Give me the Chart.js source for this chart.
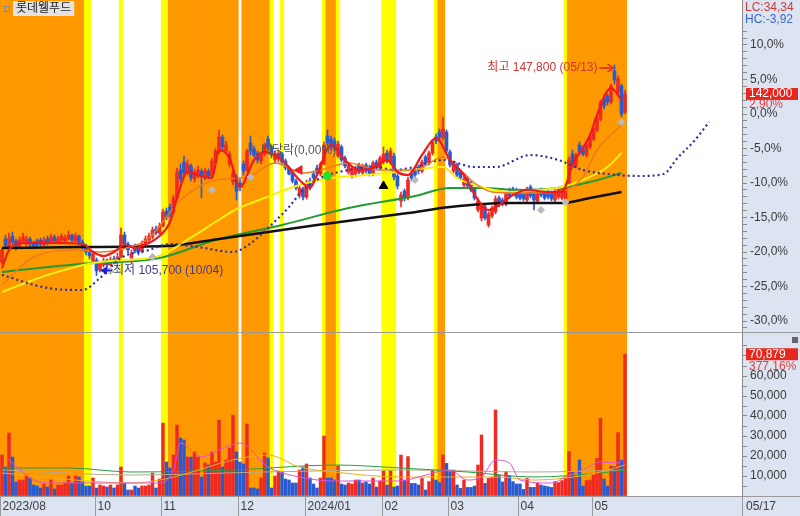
<!DOCTYPE html>
<html>
<head>
<meta charset="utf-8">
<title>롯데웰푸드</title>
<script src="https://cdn.jsdelivr.net/npm/chart.js@4.4.1/dist/chart.umd.min.js"></script>
<style>
  html, body { margin: 0; padding: 0; background: #fff; }
  #wrap { position: relative; width: 800px; height: 516px; overflow: hidden; }
  canvas { position: absolute; left: 0; }
  #priceChart { top: 0; }
  #volChart { top: 333px; }
</style>
</head>
<body>
<div id="wrap">
  <canvas id="priceChart" width="800" height="333"></canvas>
  <canvas id="volChart" width="800" height="183"></canvas>
</div>
<script>
// 롯데웰푸드 일봉 + 거래량 (2023/08/22 ~ 2024/05/17), 가격 단위: 천원

const STOCK_NAME = "롯데웰푸드";
const PREV_CLOSE = 138.0; // 0,0% 기준가
const SLOTS = 212; // 봉 179개 + 오른쪽 빈 공간

const monthStarts = [0, 27, 46, 68, 87, 109, 128, 148, 169];
const monthLabels = ["2023/08", "10", "11", "12", "2024/01", "02", "03", "04", "05"];
const lastDate = "05/17";
const lowDate = "10/04";
const highDate = "05/13";

const opens = [
  108.4, 113.0, 111.4, 113.6, 112.6, 111.6, 112.6, 112.0, 113.0, 112.2,
  112.6, 112.8, 111.8, 113.0, 112.2, 113.4, 112.4, 112.8, 112.6, 113.0,
  113.8, 112.6, 113.6, 112.4, 111.6, 110.4, 108.6, 108.8, 106.8, 107.8,
  108.8, 107.8, 109.0, 108.4, 109.4, 113.8, 112.0, 109.2, 111.6, 111.2,
  110.6, 112.0, 112.8, 113.4, 115.0, 114.2, 115.6, 118.6, 119.4, 118.4,
  121.2, 126.8, 128.4, 126.2, 127.6, 125.0, 125.6, 126.6, 125.2, 126.6,
  125.6, 128.4, 130.4, 133.4, 130.6, 128.0, 124.4, 125.4, 124.2, 128.0,
  126.8, 132.2, 131.0, 130.2, 128.6, 130.0, 133.0, 131.4, 128.8, 129.0,
  130.0, 128.6, 127.2, 126.2, 124.6, 121.8, 123.0, 121.4, 124.6, 126.0,
  127.2, 126.0, 128.0, 133.6, 133.0, 132.6, 129.6, 131.4, 129.2, 126.4,
  125.6, 126.0, 127.8, 126.2, 127.8, 127.4, 126.0, 128.4, 127.2, 128.4,
  130.2, 128.4, 129.6, 125.6, 120.6, 122.6, 121.2, 126.0, 126.6, 127.4,
  126.6, 129.4, 128.2, 130.2, 133.4, 134.4, 133.2, 134.4, 130.4, 126.6,
  127.8, 126.4, 123.8, 125.0, 124.2, 123.0, 118.8, 117.2, 119.4, 115.8,
  117.6, 118.4, 121.2, 120.8, 120.0, 122.6, 123.0, 122.8, 122.6, 122.0,
  120.8, 123.4, 122.2, 120.6, 122.8, 122.2, 122.6, 122.2, 120.8, 121.4,
  121.2, 121.0, 123.8, 130.0, 127.6, 131.8, 131.2, 129.8, 131.4, 133.0,
  134.8, 137.0, 141.2, 141.6, 140.4, 146.6, 142.4, 143.6, 138.4,
];
const highs = [
  111.2, 113.8, 114.2, 114.4, 113.0, 113.4, 114.2, 113.6, 113.4, 112.6,
  113.0, 113.2, 113.4, 113.6, 114.0, 113.8, 113.6, 114.0, 113.8, 114.6,
  114.0, 114.2, 113.8, 112.8, 112.0, 110.8, 110.6, 109.2, 108.6, 109.2,
  109.0, 109.4, 109.6, 110.2, 115.2, 114.4, 112.4, 110.8, 112.0, 111.6,
  112.6, 113.6, 114.2, 115.4, 115.6, 116.2, 119.0, 119.2, 120.0, 121.8,
  127.2, 128.0, 129.6, 128.8, 128.0, 127.0, 127.6, 127.0, 127.2, 127.0,
  129.2, 131.2, 134.8, 133.8, 132.6, 130.6, 127.0, 125.8, 125.0, 128.6,
  131.0, 133.6, 131.6, 130.6, 130.4, 132.2, 133.6, 131.8, 130.6, 130.8,
  130.4, 129.0, 127.6, 126.6, 125.0, 123.8, 123.4, 124.8, 125.2, 126.6,
  127.8, 128.4, 132.4, 134.8, 133.6, 133.2, 132.6, 131.8, 129.6, 128.2,
  127.4, 127.6, 128.2, 128.0, 128.2, 127.8, 128.6, 128.8, 129.6, 131.4,
  130.8, 131.2, 130.2, 126.0, 122.4, 123.0, 125.4, 126.4, 127.0, 127.8,
  128.8, 129.8, 130.6, 132.8, 134.0, 135.0, 137.4, 134.8, 130.8, 128.6,
  128.2, 126.8, 125.6, 125.4, 124.6, 123.4, 121.2, 120.2, 119.8, 118.4,
  119.6, 121.6, 121.6, 121.2, 122.4, 123.2, 123.4, 123.2, 123.0, 122.4,
  123.4, 123.8, 122.6, 122.8, 123.2, 122.6, 123.0, 122.6, 123.0, 123.4,
  123.6, 124.0, 129.4, 130.8, 130.2, 132.4, 131.6, 132.2, 133.8, 135.6,
  137.6, 140.8, 141.8, 142.0, 144.0, 147.8, 145.6, 144.0, 142.8,
];
const lows = [
  108.0, 111.2, 111.0, 112.0, 110.8, 111.2, 112.2, 111.6, 111.4, 111.0,
  111.4, 111.6, 111.6, 111.8, 112.0, 112.2, 112.0, 112.4, 112.2, 112.8,
  112.4, 112.4, 111.8, 110.8, 109.8, 109.0, 108.2, 105.7, 106.4, 107.4,
  107.2, 107.6, 108.0, 108.2, 109.2, 111.6, 110.2, 108.0, 110.2, 109.8,
  110.2, 111.6, 112.4, 113.0, 113.8, 114.0, 115.4, 116.8, 117.4, 118.0,
  120.8, 124.4, 125.6, 125.8, 124.6, 124.4, 125.2, 121.2, 124.8, 125.0,
  125.4, 128.0, 130.0, 130.8, 130.0, 127.4, 123.8, 120.8, 122.6, 125.8,
  126.4, 129.8, 129.4, 128.2, 128.0, 129.6, 130.8, 129.2, 128.2, 128.4,
  128.0, 126.8, 125.8, 124.2, 122.8, 121.2, 120.8, 121.0, 122.8, 124.6,
  125.6, 125.6, 127.8, 131.6, 130.8, 130.6, 129.2, 128.4, 127.2, 126.0,
  125.2, 125.4, 126.0, 125.8, 126.2, 125.6, 125.6, 126.8, 126.8, 128.0,
  128.2, 128.0, 124.8, 123.0, 119.4, 120.6, 120.8, 124.6, 125.4, 126.0,
  126.2, 127.8, 127.8, 129.8, 132.0, 132.8, 132.8, 130.0, 127.4, 126.2,
  125.4, 124.8, 123.4, 123.2, 122.4, 120.8, 118.4, 116.6, 116.8, 115.4,
  117.2, 118.0, 119.4, 119.6, 119.6, 121.2, 121.8, 121.0, 120.8, 120.6,
  120.4, 121.2, 118.8, 120.2, 121.4, 120.8, 121.0, 120.6, 120.4, 121.0,
  120.8, 120.6, 123.4, 127.4, 127.2, 129.8, 129.6, 129.4, 131.0, 132.6,
  134.4, 136.6, 139.0, 139.8, 140.0, 144.0, 141.8, 137.4, 138.0,
];
const closes = [
  110.8, 111.6, 113.2, 112.4, 111.6, 112.8, 113.4, 113.0, 112.0, 111.6,
  111.8, 112.0, 112.8, 112.2, 113.4, 112.6, 113.0, 113.6, 113.2, 113.8,
  112.8, 113.6, 112.4, 111.4, 110.4, 109.6, 110.0, 106.6, 108.0, 108.6,
  107.8, 108.8, 108.4, 109.4, 113.8, 112.0, 110.8, 110.2, 110.6, 110.4,
  112.0, 113.0, 113.6, 114.8, 114.2, 115.6, 118.4, 117.4, 118.2, 121.2,
  126.4, 125.0, 126.2, 128.0, 125.2, 126.4, 126.8, 125.4, 126.6, 125.6,
  128.6, 130.6, 133.4, 131.4, 131.8, 130.0, 126.2, 122.6, 123.4, 126.6,
  130.6, 130.6, 129.8, 128.8, 130.0, 131.8, 131.4, 129.8, 130.0, 130.2,
  128.4, 127.2, 126.0, 124.6, 123.2, 123.2, 121.4, 124.2, 123.4, 125.2,
  126.2, 128.0, 131.8, 132.2, 131.4, 131.0, 132.0, 128.8, 127.6, 127.8,
  127.0, 127.2, 126.4, 127.6, 126.6, 126.0, 128.2, 127.2, 129.2, 130.0,
  128.6, 130.6, 125.4, 123.6, 121.8, 121.2, 124.8, 125.2, 125.8, 126.6,
  128.4, 128.2, 130.2, 132.4, 132.6, 133.4, 135.0, 130.6, 127.8, 128.2,
  125.8, 125.2, 125.0, 123.6, 122.8, 121.2, 120.6, 119.6, 117.2, 118.0,
  119.2, 121.0, 119.8, 120.0, 122.0, 121.6, 122.2, 121.4, 121.2, 121.0,
  123.0, 121.6, 120.8, 122.4, 121.8, 121.2, 121.4, 121.0, 122.6, 123.0,
  123.2, 123.6, 128.8, 128.0, 129.8, 130.4, 130.0, 131.8, 133.4, 135.2,
  137.2, 140.4, 139.6, 140.4, 143.6, 144.8, 145.0, 138.0, 142.0,
];
const volumes = [
  20500, 14500, 31500, 19500, 7000, 8000, 8000, 10500, 9000, 5500,
  5000, 4000, 6000, 4500, 8000, 3500, 5500, 5500, 6500, 10000,
  6500, 10000, 9500, 7000, 5000, 5000, 9000, 4000, 5500, 5000,
  4500, 5500, 4000, 5500, 14500, 6500, 3000, 3000, 5000, 4000,
  5000, 5000, 5500, 11500, 4000, 8500, 36500, 17000, 14000, 20500,
  35500, 29000, 28000, 19500, 19500, 22000, 19500, 9500, 16500, 15500,
  22000, 17000, 38000, 14500, 18000, 24000, 40500, 22000, 17000, 16000,
  36000, 4000, 4000, 3500, 9000, 21500, 19000, 4000, 10000, 12500,
  12000, 8500, 8000, 6500, 6500, 13000, 14500, 16000, 9000, 6000,
  4000, 9000, 30000, 9000, 9000, 8000, 15000, 6000, 5500, 6500,
  6000, 8000, 8000, 6500, 7000, 6000, 9000, 4500, 7500, 12500,
  5500, 12500, 4500, 5000, 20500, 8000, 19700, 6300, 6300, 5500,
  8800, 3000, 7200, 13000, 8000, 6700, 20500, 16300, 12200, 13000,
  5500, 3800, 8000, 4300, 4300, 5000, 15500, 30500, 6300, 8800,
  9300, 43000, 10500, 7000, 12200, 10000, 7200, 6000, 6000, 3300,
  8800, 4300, 4300, 6300, 5500, 5000, 4700, 4300, 7200, 6700,
  7700, 8800, 22200, 12200, 9700, 18000, 5000, 7700, 8000, 10500,
  18800, 38800, 8500, 5000, 15000, 14700, 31700, 18000, 70879,
];

// 신호 구간: O 주황, Y 노랑 (봉 번호 시작~끝)
const signalRanges = [
  [0, 23, "O"], [24, 25, "Y"], [34, 34, "Y"], [46, 47, "Y"], [48, 67, "O"],
  [69, 76, "O"], [77, 77, "Y"], [80, 80, "Y"], [92, 92, "Y"], [93, 95, "O"],
  [96, 96, "Y"], [109, 112, "Y"], [124, 124, "Y"], [125, 126, "O"],
  [161, 161, "Y"], [162, 178, "O"],
];

// 이동평균선 (봉 번호, 천원)
const ma5 = [[0,107.2],[2,110.8],[5,112.2],[10,112.2],[16,112.2],[23,112.0],[26,110.4],[29,109.6],[32,110.4],[35,111.8],[38,111.2],[40,111.6],[45,113.6],[48,116.4],[50,121.2],[53,126.4],[56,125.8],[60,125.2],[62,130.8],[65,129.2],[68,123.4],[72,128.8],[75,130.4],[80,128.8],[85,124.8],[88,123.2],[90,125.8],[94,131.8],[98,128.8],[102,126.8],[106,127.2],[110,128.8],[113,126.4],[116,125.8],[120,129.8],[124,133.2],[128,128.8],[132,125.8],[136,120.8],[139,118.8],[142,119.8],[146,121.8],[150,122.8],[156,122.4],[160,122.4],[163,127.8],[168,133.8],[170,137.8],[174,143.2],[177,140.8]];
const ma20 = [[0,103.8],[9,109.4],[22,110.8],[28,110.4],[33,110.8],[42,113.2],[51,120.8],[61,124.8],[70,125.4],[78,128.2],[86,126.2],[91,126.8],[99,128.2],[108,126.8],[118,126.8],[126,129.4],[131,126.8],[135,124.2],[140,122.4],[148,122.2],[159,122.4],[166,125.4],[170,130.8],[177,135.8]];
const ma60 = [[0,102.4],[13,105.8],[28,108.4],[45,109.6],[52,112.4],[61,116.4],[66,118.6],[75,121.2],[85,123.8],[94,125.2],[104,125.8],[113,126.4],[126,127.4],[130,125.2],[135,123.8],[145,122.4],[154,122.8],[160,123.4],[166,124.8],[173,127.4],[177,130.2]];
const ma120 = [[0,106.4],[22,108.0],[45,109.2],[61,112.8],[80,115.8],[99,119.2],[118,121.6],[128,123.2],[137,123.2],[148,122.8],[159,123.2],[168,124.4],[177,126.2]];
const ma240 = [[0,111.2],[22,111.4],[47,111.6],[60,112.8],[90,115.8],[116,118.2],[128,119.4],[145,120.2],[160,120.2],[168,121.2],[177,122.4]];
const leadLine = [[0,105.8],[13,103.2],[23,102.8],[28,105.2],[34,109.2],[42,110.8],[48,112.0],[56,111.4],[66,110.4],[70,111.6],[76,115.2],[82,119.4],[86,122.8],[91,125.2],[99,126.8],[107,127.4],[112,126.8],[118,127.4],[126,128.8],[135,127.4],[141,127.4],[151,129.8],[159,128.8],[166,126.8],[173,126.0],[182,125.6],[189,126.0],[193,129.2],[198,132.8],[202,136.4]];

// 거래량 이동평균
const volMa5 = [[1,19500],[9,8000],[14,6500],[28,6500],[45,6500],[49,13000],[51,26500],[57,19500],[62,23000],[68,26500],[76,14500],[85,9500],[95,7500],[114,7500],[119,9500],[128,13000],[133,8000],[137,9500],[141,18000],[145,16500],[148,8000],[157,6500],[161,9500],[167,14000],[171,17000],[176,16500],[178,19500]];
const volMa20 = [[0,11500],[37,6500],[48,9000],[66,18000],[76,20500],[85,14500],[95,12000],[114,9500],[142,9500],[152,8000],[161,9000],[171,12000],[178,15500]];
const volMa60 = [[0,14000],[19,14000],[37,12000],[66,13000],[95,15500],[114,14000],[133,12000],[152,9500],[171,11500],[178,13000]];
const volMa120 = [[0,13000],[37,10500],[75,12000],[114,13000],[152,12000],[178,13000]];

// 신호 표시
const grayMarks = [[31,106.6],[43,109.4],[60,122.8],[71,125.4],[118,124.8],[154,118.8],[161,120.4],[177,136.4]];
const greenMarks = [[93,125.6]];
const blackMarks = [[109,123.6]];
const redMarks = [[85,126.8]];
const exDiv = { i: 74, price: 130.6, text: "배당락(0,00%)" };

const lcText = "LC:34,34";
const hcText = "HC:-3,92";
const volRatioText = "377,16%";

// ---------------------------------------------------------------

const FONT = "'Liberation Sans', 'Noto Sans CJK KR', sans-serif";
const UP = "#ee2a22";
const DOWN = "#2a5ad2";
const AXIS_BG = "#dbe4f0";
const X_MIN = -0.57;
const X_MAX = X_MIN + SLOTS;

Chart.defaults.font.family = FONT;
Chart.defaults.font.size = 12;
Chart.defaults.color = "#444";

const idx = closes.map((_, i) => i);
const barColor = idx.map((i) => (closes[i] >= opens[i] ? UP : DOWN));
const fmt = (v) => Math.round(v).toLocaleString("en-US");
const comma = (s) => s.replace(".", ",");

function bandDataset(lo, hi) {
  const slots = [];
  signalRanges.forEach(([a, b, k]) => {
    for (let i = a; i <= b; i++) slots.push([i, k]);
  });
  return {
    type: "bar",
    data: slots.map(([i]) => ({ x: i, y: [lo, hi] })),
    backgroundColor: slots.map(([, k]) => (k === "O" ? "#ff9900" : "#ffff00")),
    barPercentage: 1,
    categoryPercentage: 1,
    grouped: false,
    order: 100,
  };
}

function line(pts, color, width, order, extra = {}) {
  return Object.assign(
    {
      type: "line",
      data: pts.map(([x, y]) => ({ x, y })),
      borderColor: color,
      borderWidth: width,
      pointRadius: 0,
      fill: false,
      cubicInterpolationMode: "monotone",
      order,
    },
    extra,
  );
}

function marks(pts, style, color, radius, rotation = 0) {
  return {
    type: "scatter",
    data: pts.map(([x, y]) => ({ x, y })),
    pointStyle: style,
    pointRadius: radius,
    backgroundColor: color,
    borderColor: color,
    borderWidth: 1,
    rotation,
    order: 0,
  };
}

const axisBg = {
  id: "axisBg",
  beforeDraw(chart) {
    const { ctx } = chart;
    const y = chart.scales.y;
    ctx.save();
    ctx.fillStyle = AXIS_BG;
    ctx.fillRect(y.left, 0, chart.width - y.left, chart.height);
    ctx.restore();
  },
};

function yAxis(min, max, tickValues, label) {
  return {
    position: "right",
    min,
    max,
    afterFit: (s) => {
      s.width = 58;
      s.paddingTop = 0;
      s.paddingBottom = 0;
    },
    afterBuildTicks: (s) => {
      s.ticks = tickValues.map((value) => ({ value }));
    },
    ticks: { autoSkip: false, padding: 3, color: "#3c3c3c", callback: label },
    grid: { drawOnChartArea: false, tickLength: 5, tickColor: "#8a8a8a" },
    border: { color: "#8a8a8a" },
  };
}

// ---- 가격 차트 ----
const pctTicks = [];
for (let p = -31; p <= 12; p++) pctTicks.push(PREV_CLOSE * (1 + p / 100));

const priceLabels = {
  id: "priceLabels",
  afterDraw(chart) {
    const { ctx } = chart;
    const x = chart.scales.x;
    const y = chart.scales.y;
    ctx.save();

    // 배당락
    ctx.font = "12px " + FONT;
    ctx.textBaseline = "middle";
    ctx.fillStyle = "#555";
    ctx.fillText(exDiv.text, x.getPixelForValue(exDiv.i), y.getPixelForValue(exDiv.price));

    // 최저
    let lo = 0;
    lows.forEach((v, i) => { if (v < lows[lo]) lo = i; });
    const lx = x.getPixelForValue(lo) + 3.5;
    const ly = y.getPixelForValue(lows[lo]) - 5;
    ctx.fillStyle = "#1d1dd8";
    ctx.strokeStyle = "#1d1dd8";
    ctx.lineWidth = 1.5;
    ctx.beginPath();
    ctx.moveTo(lx, ly); ctx.lineTo(lx + 7, ly - 4); ctx.lineTo(lx + 7, ly + 4); ctx.closePath(); ctx.fill();
    ctx.beginPath(); ctx.moveTo(lx + 6, ly); ctx.lineTo(lx + 12, ly); ctx.stroke();
    ctx.fillStyle = "#3b3b8a";
    ctx.fillText("최저 " + fmt(lows[lo] * 1000) + " (" + lowDate + ")", lx + 13, ly);

    // 최고
    let hi = 0;
    highs.forEach((v, i) => { if (v > highs[hi]) hi = i; });
    const hx = x.getPixelForValue(hi) - 1;
    const hy = y.getPixelForValue(highs[hi]) + 3;
    ctx.fillStyle = "#e02020";
    ctx.strokeStyle = "#e02020";
    ctx.beginPath(); ctx.moveTo(hx - 14, hy); ctx.lineTo(hx - 2, hy); ctx.stroke();
    ctx.beginPath(); ctx.moveTo(hx, hy); ctx.lineTo(hx - 6, hy - 4); ctx.moveTo(hx, hy); ctx.lineTo(hx - 6, hy + 4); ctx.stroke();
    ctx.fillStyle = "#d03434";
    ctx.textAlign = "right";
    ctx.fillText("최고 " + fmt(highs[hi] * 1000) + " (" + highDate + ")", hx - 16, hy);
    ctx.textAlign = "left";

    // 종목명
    ctx.font = "12px " + FONT;
    const tw = ctx.measureText(STOCK_NAME).width;
    ctx.fillStyle = "#e2e2e2";
    ctx.fillRect(13, 1, tw + 6, 15);
    ctx.fillStyle = "#222";
    ctx.fillText(STOCK_NAME, 16, 9);
    ctx.strokeStyle = "#888";
    ctx.lineWidth = 1;
    ctx.strokeRect(4.5, 6.5, 5, 5);

    // 오른쪽 축 정보
    const ax = y.left + 3;
    ctx.font = "12px " + FONT;
    ctx.fillStyle = "#d23a3a";
    ctx.fillText(lcText, ax, 8);
    ctx.fillStyle = "#3a66cc";
    ctx.fillText(hcText, ax, 20);

    const last = closes[closes.length - 1];
    const prev = closes[closes.length - 2];
    const py = y.getPixelForValue(last);
    ctx.fillStyle = "#e8281e";
    ctx.fillRect(y.left + 4, py - 6, chart.width - y.left - 6, 12);
    ctx.fillStyle = "#fff";
    ctx.fillText(fmt(last * 1000), y.left + 7, py);
    ctx.fillStyle = "#e04040";
    ctx.fillText(comma(((last / prev - 1) * 100).toFixed(2)) + "%", y.left + 7, py + 11);

    // 패널 경계
    ctx.strokeStyle = "#9a9a9a";
    ctx.beginPath();
    ctx.moveTo(0, chart.height - 0.5);
    ctx.lineTo(chart.width, chart.height - 0.5);
    ctx.stroke();
    ctx.restore();
  },
};

new Chart(document.getElementById("priceChart"), {
  type: "bar",
  data: {
    datasets: [
      bandDataset(90, 170),
      {
        type: "bar",
        data: idx.map((i) => ({ x: i, y: [lows[i], highs[i]] })),
        backgroundColor: barColor,
        barThickness: 1,
        grouped: false,
        order: 10,
      },
      {
        type: "bar",
        data: idx.map((i) => ({ x: i, y: [opens[i], closes[i]] })),
        backgroundColor: barColor,
        barThickness: 3,
        minBarLength: 1,
        grouped: false,
        order: 9,
      },
      line(ma240, "#111111", 2.5, 6),
      line(ma120, "#229a2e", 2, 6),
      line(ma60, "#f6ef10", 2, 5),
      line(leadLine, "#30309c", 2.2, 4, { borderDash: [2, 3] }),
      line(ma20, "#ef7a1e", 1.5, 3),
      line(ma5, "#f01a1a", 2.2, 2),
      marks(grayMarks, "rectRot", "#b9b9b9", 3.5),
      marks(greenMarks, "circle", "#27e027", 4),
      marks(blackMarks, "triangle", "#000000", 5),
      marks(redMarks, "triangle", "#ee2020", 5, -90),
    ],
  },
  options: {
    responsive: false,
    animation: false,
    events: [],
    layout: { padding: 0, autoPadding: false },
    plugins: { legend: { display: false }, tooltip: { enabled: false } },
    scales: {
      x: { type: "linear", min: X_MIN, max: X_MAX, display: false, offset: false },
      y: yAxis(94.2, 160.8, pctTicks, (v) => {
        const p = Math.round((v / PREV_CLOSE - 1) * 100);
        return p % 5 === 0 && p >= -30 && p <= 10 ? comma(p.toFixed(1)) + "%" : "";
      }),
    },
  },
  plugins: [axisBg, priceLabels],
});

// ---- 거래량 차트 ----
const VOL_MAX = 81500;
const volTicks = [];
for (let v = 0; v <= 75000; v += 5000) volTicks.push(v);

const volLabels = {
  id: "volLabels",
  afterDraw(chart) {
    const { ctx, chartArea } = chart;
    const x = chart.scales.x;
    const y = chart.scales.y;
    ctx.save();

    // 날짜 축
    const top = chartArea.bottom;
    ctx.fillStyle = AXIS_BG;
    ctx.fillRect(0, top, chart.width, chart.height - top);
    ctx.strokeStyle = "#9a9a9a";
    ctx.lineWidth = 1;
    ctx.beginPath();
    ctx.moveTo(0, top + 0.5);
    ctx.lineTo(chart.width, top + 0.5);
    ctx.stroke();
    ctx.font = "12px " + FONT;
    ctx.textBaseline = "middle";
    ctx.fillStyle = "#3c3c3c";
    const mid = (top + chart.height) / 2 + 1;
    monthStarts.forEach((s, k) => {
      const px = Math.round(x.getPixelForValue(s - 0.5)) + 0.5;
      ctx.beginPath();
      ctx.moveTo(px, top);
      ctx.lineTo(px, chart.height);
      ctx.stroke();
      ctx.fillText(monthLabels[k], px + 2, mid);
    });
    ctx.beginPath();
    ctx.moveTo(y.left + 0.5, top);
    ctx.lineTo(y.left + 0.5, chart.height);
    ctx.stroke();
    ctx.fillText(lastDate, y.left + 4, mid);

    // 현재 거래량
    const last = volumes[volumes.length - 1];
    const vy = y.getPixelForValue(last);
    ctx.fillStyle = "#e8281e";
    ctx.fillRect(y.left + 4, vy - 6, chart.width - y.left - 6, 12);
    ctx.fillStyle = "#fff";
    ctx.fillText(fmt(last), y.left + 7, vy);
    ctx.fillStyle = "#e04040";
    ctx.fillText(volRatioText, y.left + 7, vy + 12);

    // 작은 아이콘
    ctx.fillStyle = "#666";
    ctx.fillRect(chart.width - 8, 4, 6, 6);
    ctx.restore();
  },
};

new Chart(document.getElementById("volChart"), {
  type: "bar",
  data: {
    datasets: [
      bandDataset(0, VOL_MAX),
      {
        type: "bar",
        data: idx.map((i) => ({ x: i, y: volumes[i] })),
        backgroundColor: barColor,
        barThickness: 2.8,
        grouped: false,
        order: 10,
      },
      line(volMa120, "#b5a98c", 1, 5),
      line(volMa60, "#25a040", 1, 4),
      line(volMa20, "#e8b020", 1, 3),
      line(volMa5, "#e050d8", 1, 2),
    ],
  },
  options: {
    responsive: false,
    animation: false,
    events: [],
    layout: { padding: { bottom: 20 }, autoPadding: false },
    plugins: { legend: { display: false }, tooltip: { enabled: false } },
    scales: {
      x: { type: "linear", min: X_MIN, max: X_MAX, display: false, offset: false },
      y: yAxis(0, VOL_MAX, volTicks, (v) =>
        v % 10000 === 0 && v > 0 && v <= 60000 ? fmt(v) : "",
      ),
    },
  },
  plugins: [axisBg, volLabels],
});
</script>
</body>
</html>
